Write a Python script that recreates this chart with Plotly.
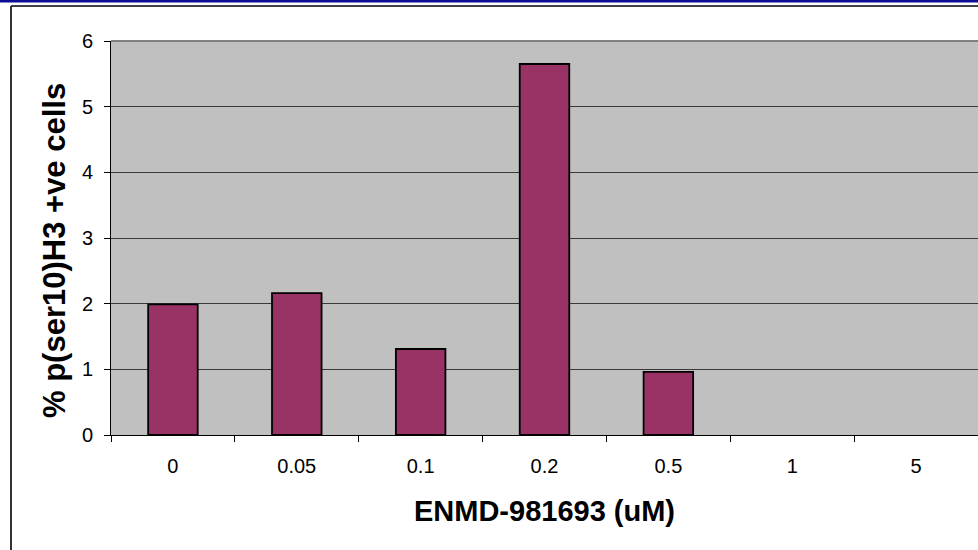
import plotly.graph_objects as go

# Dose categories (uM) and percentage of phospho-H3 positive cells
doses = ["0", "0.05", "0.1", "0.2", "0.5", "1", "5"]
pct_positive = [1.99, 2.16, 1.31, 5.65, 0.96, 0, 0]
y_ticks = [0, 1, 2, 3, 4, 5, 6]

W, H = 978, 550
L, T, B, R = 111, 41, 115, 0
plot_w = W - L - R
plot_h = H - T - B


def px_x(px):
    return (px - L) / plot_w


def px_y(py):
    return (H - B - py) / plot_h


# empty categories get no outline
outline_widths = [1.8 if v > 0 else 0 for v in pct_positive]

fig = go.Figure()
fig.add_trace(go.Bar(
    x=doses,
    y=pct_positive,
    width=0.4,
    marker=dict(color="#993366", line=dict(color="#000000", width=outline_widths)),
    hoverinfo="x+y",
))

font_family = "Liberation Sans, Arial, sans-serif"

fig.update_layout(
    width=W,
    height=H,
    margin=dict(l=L, r=R, t=T, b=B, pad=0),
    paper_bgcolor="#ffffff",
    plot_bgcolor="#c0c0c0",
    showlegend=False,
    bargap=0.6,
    font=dict(family=font_family, color="#000000"),
    xaxis=dict(
        type="category",
        categoryorder="array",
        categoryarray=doses,
        showline=True,
        linecolor="#000000",
        linewidth=1,
        ticks="outside",
        tickson="boundaries",
        ticklen=6,
        tickcolor="#000000",
        tickwidth=1,
        tickfont=dict(size=20, family=font_family),
        ticklabelstandoff=13,
        showgrid=False,
        title=dict(text="<b>ENMD-981693 (uM)</b>", font=dict(size=29, family=font_family), standoff=24),
    ),
    yaxis=dict(
        range=[0, 6],
        tickvals=y_ticks,
        ticktext=[str(v) for v in y_ticks],
        showline=True,
        linecolor="#000000",
        linewidth=1,
        ticks="outside",
        ticklen=6,
        tickcolor="#000000",
        tickwidth=1,
        tickfont=dict(size=20, family=font_family),
        ticklabelstandoff=7,
        showgrid=True,
        gridcolor="#3a3a3a",
        gridwidth=1,
        zeroline=False,
    ),
    annotations=[
        # y-axis title, placed explicitly
        dict(text="<b>% p(ser10)H3 +ve cells</b>", xref="paper", yref="paper",
             x=px_x(55), y=px_y(251), xanchor="center", yanchor="middle",
             textangle=-90, showarrow=False,
             font=dict(size=31, family=font_family, color="#000000")),
    ],
    shapes=[
        # blue band along the top of the page
        dict(type="rect", xref="paper", yref="paper",
             x0=px_x(0), x1=px_x(W), y0=px_y(2.5), y1=px_y(0),
             fillcolor="#0c0c96", line=dict(width=0), layer="above"),
        # chart frame: top and left edges
        dict(type="line", xref="paper", yref="paper",
             x0=px_x(11), x1=px_x(W), y0=px_y(6), y1=px_y(6),
             line=dict(color="#000000", width=1.5), layer="above"),
        dict(type="line", xref="paper", yref="paper",
             x0=px_x(11), x1=px_x(11), y0=px_y(6), y1=px_y(H),
             line=dict(color="#333333", width=2), layer="above"),
        # plot area border along the top
        dict(type="line", xref="paper", yref="paper",
             x0=0, x1=1, y0=1, y1=1,
             line=dict(color="#808080", width=2), layer="above"),
    ],
)

fig.write_html("out.html")
